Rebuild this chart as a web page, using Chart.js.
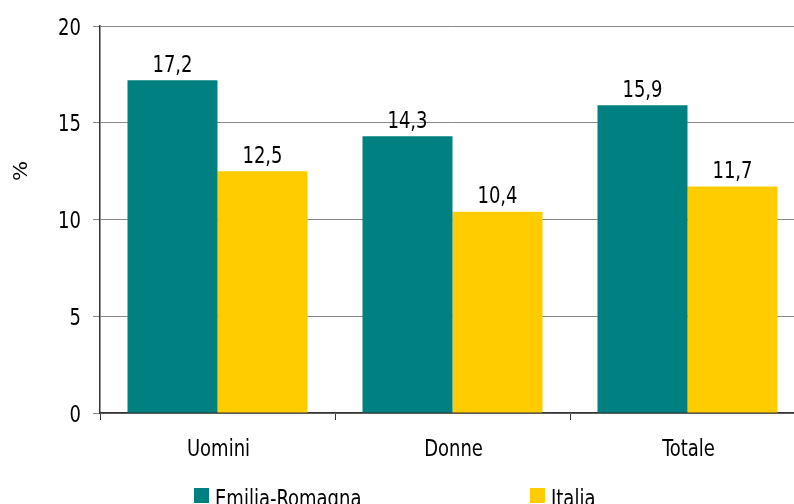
<!DOCTYPE html>
<html>
<head>
<meta charset="utf-8">
<script src="https://cdn.jsdelivr.net/npm/chart.js@4.4.1/dist/chart.umd.min.js"></script>
<style>
  html, body { margin: 0; padding: 0; background: #fff; }
  #wrap { width: 794px; height: 504px; overflow: hidden; position: relative; }
  #c { position: absolute; left: 0; top: 0; }
</style>
</head>
<body>
<div id="wrap"><canvas id="c" width="805" height="504"></canvas></div>
<script>
const categories = ['Uomini', 'Donne', 'Totale'];
const emiliaRomagna = [17.2, 14.3, 15.9];
const italia = [12.5, 10.4, 11.7];
const seriesNames = ['Emilia-Romagna', 'Italia'];
const yTicks = [0, 5, 10, 15, 20];
const yTitle = '%';

const FONT = "'DejaVu Sans Condensed', 'DejaVu Sans', sans-serif";
const FS = 20;
const SY = 1.18;
const fmt = v => v.toFixed(1).replace('.', ',');

function txt(ctx, s, x, y, align) {
  ctx.save();
  ctx.font = FS + "px " + FONT;
  ctx.fillStyle = '#000';
  ctx.textAlign = align;
  ctx.textBaseline = 'alphabetic';
  ctx.translate(x, y);
  ctx.scale(1, SY);
  ctx.fillText(s, 0, 0);
  ctx.restore();
}

const labelsPlugin = {
  id: 'valueLabels',
  afterDatasetsDraw(chart) {
    const ctx = chart.ctx;
    chart.data.datasets.forEach((ds, i) => {
      chart.getDatasetMeta(i).data.forEach((bar, j) => {
        txt(ctx, fmt(ds.data[j]), bar.x, bar.y - 8.5, 'center');
      });
    });
  }
};

const extrasPlugin = {
  id: 'extras',
  afterDraw(chart) {
    const ctx = chart.ctx;
    const ys = chart.scales.y, xs = chart.scales.x;
    // y tick labels
    yTicks.forEach(v => txt(ctx, String(v), 81, ys.getPixelForValue(v) + 8.5, 'right'));
    // x tick labels
    categories.forEach((c, i) => txt(ctx, c, xs.getPixelForValue(i) + 1, 456, 'center'));
    // y title
    ctx.save();
    ctx.font = FS + "px " + FONT;
    ctx.fillStyle = '#000';
    ctx.translate(22, 171);
    ctx.rotate(-Math.PI / 2);
    ctx.scale(SY, 1);
    ctx.textAlign = 'center';
    ctx.textBaseline = 'middle';
    ctx.fillText(yTitle, 0, 0);
    ctx.restore();
    // legend
    const lx = [194, 530];
    chart.data.datasets.forEach((ds, i) => {
      ctx.save();
      ctx.fillStyle = ds.backgroundColor;
      ctx.fillRect(lx[i], 488, 15, 15);
      ctx.restore();
      txt(ctx, ds.label, lx[i] + 21, 505.5, 'left');
    });
  }
};

new Chart(document.getElementById('c'), {
  type: 'bar',
  data: {
    labels: categories,
    datasets: [
      { label: seriesNames[0], data: emiliaRomagna, backgroundColor: '#008080' },
      { label: seriesNames[1], data: italia, backgroundColor: '#FFCC00' }
    ]
  },
  options: {
    responsive: false,
    animation: false,
    devicePixelRatio: 1,
    layout: { padding: { top: 26, left: 0, right: 0, bottom: 0 } },
    datasets: { bar: { barPercentage: 1.0, categoryPercentage: 0.766 } },
    plugins: { legend: { display: false }, tooltip: { enabled: false } },
    scales: {
      x: {
        grid: { drawOnChartArea: false, drawTicks: true, tickLength: 7, color: '#333', offset: true },
        border: { color: '#333', width: 1.5 },
        ticks: { display: false },
        afterFit(s) { s.height = 91; }
      },
      y: {
        min: 0, max: 20,
        afterBuildTicks(s) { s.ticks = yTicks.map(v => ({ value: v })); },
        grid: { color: '#888', lineWidth: 1, drawTicks: true, tickLength: 7 },
        border: { color: '#333', width: 1.5 },
        ticks: { display: false },
        afterFit(s) { s.width = 100; }
      }
    }
  },
  plugins: [labelsPlugin, extrasPlugin]
});
</script>
</body>
</html>
